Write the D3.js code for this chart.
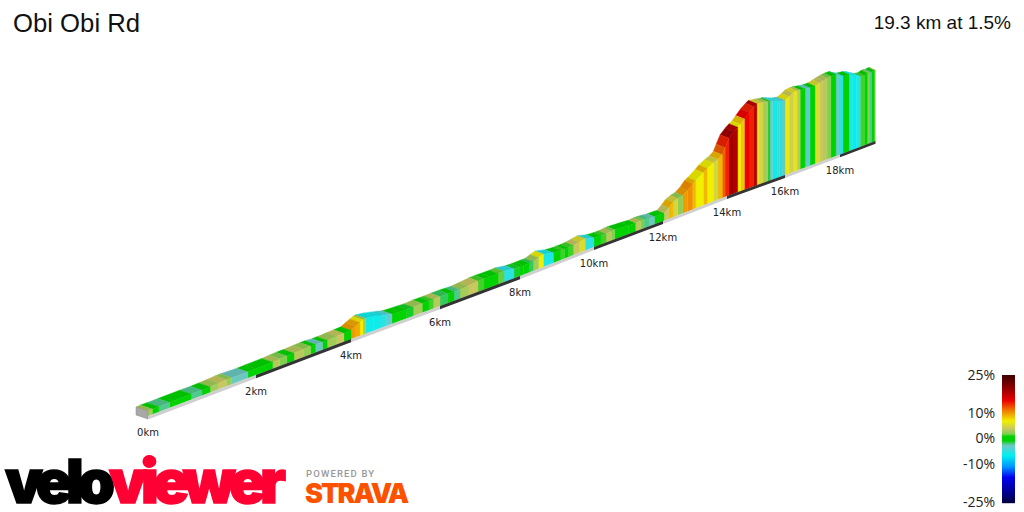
<!DOCTYPE html>
<html>
<head>
<meta charset="utf-8">
<script src="https://cdn.jsdelivr.net/npm/d3@7/dist/d3.min.js"></script>
<style>
html,body{margin:0;padding:0;background:#fff;overflow:hidden}
svg{display:block}
</style>
</head>
<body>
<svg id="chart" width="1024" height="512"></svg>
<script>
// Route summary
const routeName = "Obi Obi Rd";
const routeSummary = "19.3 km at 1.5%";

// Profile sections: end distance (km), elevation gained at that point (m), gradient (%)
const sectionEndKm = [
  0.08,0.2,0.4,0.8,1.0,1.15,1.3,1.45,1.55,1.85,2.0,2.35,2.5,2.65,2.8,3.0,3.15,3.25,3.4,3.5,3.7,3.85,4.0,
  4.1,4.2,4.27,4.33,4.5,4.65,4.8,4.92,5.1,5.25,5.4,5.6,5.75,5.85,6.0,6.2,6.35,6.5,6.7,6.95,7.1,7.25,7.45,7.6,7.85,8.0,
  8.1,8.25,8.36,8.5,8.63,8.9,9.1,9.2,9.3,9.44,9.6,9.76,10.0,10.2,10.35,10.5,10.6,11.0,11.2,11.35,11.45,11.6,11.75,11.94,
  12.03,12.18,12.31,12.46,12.62,12.77,12.92,13.02,13.26,13.38,13.57,13.72,13.85,13.94,14.07,14.24,14.37,14.47,14.6,14.76,14.93,15.03,
  15.10,15.24,15.41,15.48,15.58,15.75,15.82,15.9,16.0,16.15,16.29,16.44,16.55,16.73,16.8,16.91,17.09,17.27,
  17.38,17.53,17.67,17.85,17.96,18.11,18.33,18.45,18.6,18.74,18.89,19.0,19.07,19.15,19.26,19.3
];
const sectionElevation = [
  1,1,1,2,1,2,4,6,6,4,5,6,8,9,9,11,12,12,10,10,12,13,14,
  24,32,38,40,36,30,24,18,16,15,14,16,16,16,17,17,16,15,18,22,23,22,22,23,17,16,
  16,16,16,24,30,20,17,17,17,18,22,26,16,14,14,16,17,14,12,14,14,12,10,10,
  8,23,38,46,50,62,81,88,108,119,131,138,150,173,204,223,235,242,258,277,292,300,
  298,296,292,292,288,280,277,275,273,281,290,292,292,288,287,285,285,290,
  294,298,300,300,292,283,280,275,265,256,254,258,258,256,258,258
];
const sectionGradient = [
  3,0.5,-2,0.5,-2,0.5,3,4,2.5,-2.5,0.5,0.5,3.5,2,0.5,3.5,2.5,1,-2.5,0.5,3,4,0.7,
  10,9.5,7,3,-6,-6,-5,-3,0.5,0.5,-1,3,0.5,1.5,3.5,-1.5,0.5,-2,3,4,1.5,0.3,0.5,1.8,-5,-1,
  0.5,0.5,-1.5,3,7,-5.5,0.5,1.5,0.5,1.5,4,5.5,-5,0.5,1.5,3.5,2,0.5,0.5,3.5,2,-2,-2.5,0.5,
  0.5,4,9,5,2.5,10,10.5,9,7,9,7,5,9,12,14,19,18,7,8.5,15,14,18,
  6,5,3,-1,-3,-6,-3.5,-5.5,-2.5,6.5,4.5,6,3.5,0.3,-2.5,-3.5,0.3,5.5,
  4,3.5,2,0.2,-3,-5,0.3,-5.5,-6.5,-5,1.5,0.3,2,-2,0.5,3.5
];

// Distance markers under the profile
const distanceTicks = [0,2,4,6,8,10,12,14,16,18];
const routeLength = 19.3;

// Colour key
const legendTicks = [25,10,0,-10,-25];
const gradeStops = [25,19,15,11,7,4,2,1,-0.6,-2.6,-6.5,-11,-15,-21,-25];
const gradeColours = ["#3c0000","#a00000","#ee0000","#f08000","#f0f000","#c8c860","#80d050","#00d400","#00d000",
                      "#70c8c8","#00f0f0","#0090ff","#0000f0","#000090","#000040"];

// Perspective ground track: distance along the road to page position
const trackKm = [0,2,4,6,8,10,12,14,16,18,19.3];
const trackX  = [148,256,351,440,520,594,663,727,785,840,875.5];
const trackY  = [416,375,339,306,276,247,221,196,175,154.5,141];
const depthKm = [0,4.5,12,14,19.3];
const depthX  = [-12,-10,-7,-9,-6];
const depthY  = [-4,-3.5,-3,-3.5,-3];

const svg = d3.select("#chart");
const x = d3.scaleLinear().domain(trackKm).range(trackX);
const y = d3.scaleLinear().domain(trackKm).range(trackY);
const dx = d3.scaleLinear().domain(depthKm).range(depthX);
const dy = d3.scaleLinear().domain(depthKm).range(depthY);
const rise = d3.scaleLinear().domain([0,300]).range([5,81.5]);
const colour = d3.scaleLinear().domain(gradeStops).range(gradeColours).interpolate(d3.interpolateRgb);

const sections = sectionEndKm.map((km,i) => ({
  from: i ? sectionEndKm[i-1] : 0,
  to: km,
  e0: i ? sectionElevation[i-1] : 0,
  e1: sectionElevation[i],
  grade: sectionGradient[i]
}));

const line = d3.line();
const front = (km,e) => [x(km), y(km) - rise(e)];
const back = (km,e) => [x(km) + dx(km), y(km) - rise(e) + dy(km)];

// Road surface and side wall, painted from the far end toward the viewer
const road = svg.append("g");
sections.slice().reverse().forEach(s => {
  const c = colour(s.grade);
  const top = d3.color(c).darker(0.3).formatHex();
  road.append("path")
    .attr("d", line([front(s.from,s.e0),front(s.to,s.e1),back(s.to,s.e1),back(s.from,s.e0)])+"Z")
    .attr("fill",top).attr("stroke",top).attr("stroke-width",0.4);
  road.append("path")
    .attr("d", line([[x(s.from),y(s.from)],[x(s.to),y(s.to)],front(s.to,s.e1),front(s.from,s.e0)])+"Z")
    .attr("fill",c).attr("stroke",c).attr("stroke-width",0.4);
});

// Near end cap of the ribbon
const capDepth = [dx(0),dy(0)];
road.append("path")
  .attr("d", line([front(0,0),back(0,0),
    [x(0)+capDepth[0], y(0)+capDepth[1]+3],[x(0),y(0)+3]])+"Z")
  .attr("fill","#a8a8a8").attr("stroke","#888").attr("stroke-width",0.5);

// Alternating 2 km bands along the foot of the wall
const bandEdges = distanceTicks.concat([routeLength]);
d3.pairs(bandEdges).forEach(([a,b],i) => {
  const t0 = 3.4, t1 = 2.8;
  const w = km => t0 + (t1-t0)*km/routeLength;
  svg.append("path")
    .attr("d", line([[x(a),y(a)],[x(b),y(b)],[x(b),y(b)+w(b)],[x(a),y(a)+w(a)]])+"Z")
    .attr("fill", i%2 ? "#333333" : "#cfcfcf");
});

// Distance labels
svg.append("g").selectAll("text").data(distanceTicks).join("text")
  .attr("x", d => x(d))
  .attr("y", d => y(d)+19.5)
  .attr("text-anchor","middle")
  .attr("font-family","'DejaVu Sans'")
  .attr("font-size",10)
  .attr("fill","#222")
  .text(d => d+"km");

// Headings
svg.append("text").attr("x",13).attr("y",32)
  .attr("font-family","'Liberation Sans'").attr("font-size",25.7).attr("fill","#111").text(routeName);
svg.append("text").attr("x",1011).attr("y",29).attr("text-anchor","end")
  .attr("font-family","'Liberation Sans'").attr("font-size",19).attr("fill","#111").text(routeSummary);

// Gradient key
const legendY = d3.scaleLinear().domain([25,-25]).range([375,503]);
const key = svg.append("g");
d3.range(375,503).forEach(py => {
  key.append("rect").attr("x",1002).attr("y",py).attr("width",13).attr("height",1.2)
    .attr("fill",colour(legendY.invert(py+0.5)));
});
const labelY = d3.scaleLinear().domain([25,10,0,-10,-25]).range([380,418,443,469,507]);
key.selectAll("text").data(legendTicks).join("text")
  .attr("x",995).attr("y",d => labelY(d)).attr("text-anchor","end")
  .attr("font-family","'Open Sans'").attr("font-size",14).attr("fill","#222")
  .text(d => d+"%");

// Wordmarks
const mark = svg.append("g").attr("font-family","Inter").attr("font-weight",900).attr("font-size",60);
mark.append("text").attr("x",5).attr("y",502.5).attr("letter-spacing",-6.2)
  .attr("fill","#000").attr("stroke","#000").attr("stroke-width",1.5).text("velo");
mark.append("text").attr("x",109).attr("y",502.5).attr("letter-spacing",-5.8)
  .attr("fill","#ff0033").attr("stroke","#ff0033").attr("stroke-width",1.5).text("viewer");
svg.append("circle").attr("cx",149).attr("cy",461.5).attr("r",6.5).attr("fill","#ff0033");
svg.append("text").attr("x",306).attr("y",477).attr("font-family","Roboto").attr("font-weight",500)
  .attr("font-size",9.5).attr("letter-spacing",1.15).attr("fill","#999").text("POWERED BY");
svg.append("text").attr("x",305).attr("y",503).attr("font-family","Inter").attr("font-weight",900)
  .attr("font-size",27).attr("letter-spacing",-2).attr("fill","#fc5200").text("STRAVA");
</script>
</body>
</html>
